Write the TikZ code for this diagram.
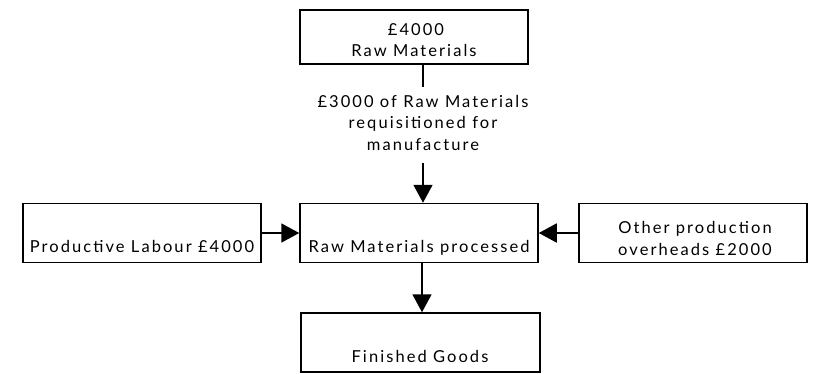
\documentclass[tikz,border=0pt]{standalone}
\usepackage{fontspec}
\setmainfont[LetterSpace=12.5]{Lato}
\usetikzlibrary{arrows.meta}
\begin{document}
\begin{tikzpicture}[x=1pt,y=-1pt,
  box/.style={draw,line width=1.5pt,inner sep=0pt},
  txt/.style={inner sep=0pt,anchor=base,font=\fontsize{16.5}{21.5}\selectfont,align=center},
  conn/.style={line width=1.8pt},
  arr/.style={line width=1.8pt,-{Triangle[length=18pt,width=19pt]}}]
\useasboundingbox (0,0) rectangle (817,373);
\node[box,minimum width=228pt,minimum height=54pt] (top) at (414,37) {};
\node[box,minimum width=238pt,minimum height=59pt] (mid) at (419,233) {};
\node[box,minimum width=238pt,minimum height=59pt] (left) at (142,233) {};
\node[box,minimum width=228pt,minimum height=59pt] (right) at (693,233) {};
\node[box,minimum width=239pt,minimum height=59pt] (bot) at (420.5,342.5) {};
\node[txt] (t1) at (416,35) {£4000};
\node[txt] (t2) at (414,56) {Raw Materials};
\node[txt] (lab) at (423,150) {£3000 of Raw Materials\\requisitioned for\\manufacture};
\node[txt] (t3) at (419,252) {Raw Materials processed};
\node[txt] (t4) at (142,252) {Productive Labour £4000};
\node[txt] (t5) at (695,255) {Other production\\overheads £2000};
\node[txt] (t6) at (420,362) {Finished Goods};
\coordinate (labtop) at (423,87);
\coordinate (labbot) at (423,163);
\draw[conn] (top.south -| labtop) -- (labtop);
\draw[arr] (labbot) -- (labbot |- mid.north);
\draw[arr] (left.east) -- (mid.west);
\draw[arr] (right.west) -- (mid.east);
\draw[arr] (mid.south -| 422,0) -- (bot.north -| 422,0);
\end{tikzpicture}
\end{document}
